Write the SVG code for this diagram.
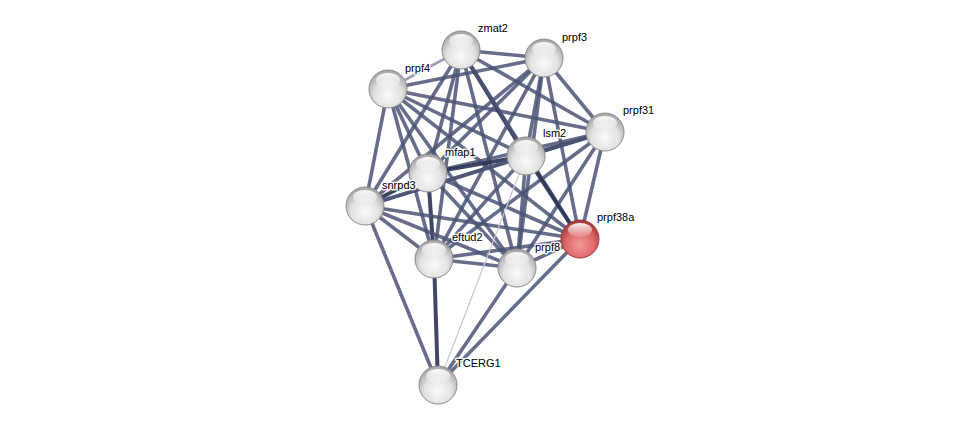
<svg xmlns="http://www.w3.org/2000/svg" width="975" height="430" viewBox="0 0 975 430">
<style>
.e{stroke:#4b5476;stroke-width:3.6;stroke-opacity:0.85;fill:none}
.d{stroke:#2b3354;stroke-width:4;stroke-opacity:0.9;fill:none}
.l{stroke:#8a90aa;stroke-width:2.6;stroke-opacity:0.85;fill:none}
.t{stroke:#c4c7d3;stroke-width:1.2;fill:none}
.n circle.b{fill:url(#gw);stroke:#8c8c8c;stroke-width:1}
.n ellipse{fill:url(#hl)}
.r circle.b{fill:url(#gr);stroke:#9a3a3a;stroke-width:1}
text{font-family:"Liberation Sans",Arial,sans-serif;font-size:11px;fill:#000;paint-order:stroke;stroke:#fff;stroke-width:3px;stroke-opacity:0.9;stroke-linejoin:round}
</style>
<defs>
<radialGradient id="gw" cx="0.5" cy="0.65" r="0.6">
<stop offset="0" stop-color="#fafafa"/>
<stop offset="0.6" stop-color="#e2e2e2"/>
<stop offset="1" stop-color="#a9a9a9"/>
</radialGradient>
<radialGradient id="gr" cx="0.5" cy="0.65" r="0.6">
<stop offset="0" stop-color="#f29a9a"/>
<stop offset="0.6" stop-color="#e06a6a"/>
<stop offset="1" stop-color="#a83c3c"/>
</radialGradient>
<linearGradient id="hl" x1="0" y1="0" x2="0" y2="1">
<stop offset="0" stop-color="#fff" stop-opacity="0.95"/>
<stop offset="1" stop-color="#fff" stop-opacity="0.1"/>
</linearGradient>
</defs>
<rect width="975" height="430" fill="#fff"/>
<g id="edges">
<line class="e" x1="461" y1="50" x2="544" y2="58"/>
<line class="l" x1="388" y1="89" x2="461" y2="50"/>
<line class="e" x1="388" y1="89" x2="544" y2="58"/>
<line class="e" x1="388" y1="89" x2="605" y2="132"/>
<line class="e" x1="388" y1="89" x2="365" y2="206"/>
<line class="e" x1="388" y1="89" x2="428" y2="173"/>
<line class="e" x1="388" y1="89" x2="434" y2="259"/>
<line class="e" x1="388" y1="89" x2="526" y2="156"/>
<line class="e" x1="388" y1="89" x2="517" y2="268"/>
<line class="e" x1="388" y1="89" x2="580" y2="239"/>
<line class="e" x1="461" y1="50" x2="605" y2="132"/>
<line class="d" x1="461" y1="50" x2="526" y2="156"/>
<line class="e" x1="461" y1="50" x2="428" y2="173"/>
<line class="e" x1="461" y1="50" x2="365" y2="206"/>
<line class="e" x1="461" y1="50" x2="434" y2="259"/>
<line class="e" x1="461" y1="50" x2="517" y2="268"/>
<line class="e" x1="461" y1="50" x2="580" y2="239"/>
<line class="e" x1="544" y1="58" x2="605" y2="132"/>
<line class="e" x1="544" y1="58" x2="526" y2="156"/>
<line class="e" x1="544" y1="58" x2="428" y2="173"/>
<line class="e" x1="544" y1="58" x2="365" y2="206"/>
<line class="e" x1="544" y1="58" x2="434" y2="259"/>
<line class="e" x1="544" y1="58" x2="517" y2="268"/>
<line class="e" x1="544" y1="58" x2="580" y2="239"/>
<line class="d" x1="605" y1="132" x2="526" y2="156"/>
<line class="e" x1="605" y1="132" x2="428" y2="173"/>
<line class="e" x1="605" y1="132" x2="365" y2="206"/>
<line class="e" x1="605" y1="132" x2="434" y2="259"/>
<line class="e" x1="605" y1="132" x2="517" y2="268"/>
<line class="e" x1="605" y1="132" x2="580" y2="239"/>
<line class="d" x1="526" y1="156" x2="428" y2="173"/>
<line class="e" x1="526" y1="156" x2="365" y2="206"/>
<line class="e" x1="526" y1="156" x2="434" y2="259"/>
<line class="e" x1="526" y1="156" x2="517" y2="268"/>
<line class="d" x1="526" y1="156" x2="580" y2="239"/>
<line class="d" x1="428" y1="173" x2="365" y2="206"/>
<line class="d" x1="428" y1="173" x2="434" y2="259"/>
<line class="e" x1="428" y1="173" x2="517" y2="268"/>
<line class="e" x1="428" y1="173" x2="580" y2="239"/>
<line class="e" x1="365" y1="206" x2="434" y2="259"/>
<line class="e" x1="365" y1="206" x2="517" y2="268"/>
<line class="e" x1="365" y1="206" x2="580" y2="239"/>
<line class="e" x1="365" y1="206" x2="438" y2="385"/>
<line class="e" x1="434" y1="259" x2="517" y2="268"/>
<line class="e" x1="434" y1="259" x2="580" y2="239"/>
<line class="d" x1="434" y1="259" x2="438" y2="385"/>
<line class="e" x1="517" y1="268" x2="580" y2="239"/>
<line class="e" x1="517" y1="268" x2="438" y2="385"/>
<line class="e" x1="580" y1="239" x2="438" y2="385"/>
<line class="t" x1="526" y1="156" x2="438" y2="385"/>
</g>
<g id="zmat2" class="n"><circle class="b" cx="461" cy="50" r="19"/><ellipse cx="461" cy="41" rx="12" ry="7"/><text x="478" y="32">zmat2</text></g>
<g id="prpf3" class="n"><circle class="b" cx="544" cy="58" r="19"/><ellipse cx="544" cy="49" rx="12" ry="7"/><text x="562" y="41">prpf3</text></g>
<g id="prpf4" class="n"><circle class="b" cx="388" cy="89" r="19"/><ellipse cx="388" cy="80" rx="12" ry="7"/><text x="405" y="72">prpf4</text></g>
<g id="prpf31" class="n"><circle class="b" cx="605" cy="132" r="19"/><ellipse cx="605" cy="123" rx="12" ry="7"/><text x="623" y="114">prpf31</text></g>
<g id="lsm2" class="n"><circle class="b" cx="526" cy="156" r="19"/><ellipse cx="526" cy="147" rx="12" ry="7"/><text x="543" y="137">lsm2</text></g>
<g id="mfap1" class="n"><circle class="b" cx="428" cy="173" r="19"/><ellipse cx="428" cy="164" rx="12" ry="7"/><text x="445" y="156">mfap1</text></g>
<g id="snrpd3" class="n"><circle class="b" cx="365" cy="206" r="19"/><ellipse cx="365" cy="197" rx="12" ry="7"/><text x="382" y="189">snrpd3</text></g>
<g id="prpf38a" class="n r"><circle class="b" cx="580" cy="239" r="19"/><ellipse cx="580" cy="230" rx="12" ry="7"/><text x="597" y="221">prpf38a</text></g>
<g id="eftud2" class="n"><circle class="b" cx="434" cy="259" r="19"/><ellipse cx="434" cy="250" rx="12" ry="7"/><text x="452" y="241">eftud2</text></g>
<g id="prpf8" class="n"><circle class="b" cx="517" cy="268" r="19"/><ellipse cx="517" cy="259" rx="12" ry="7"/><text x="535" y="251">prpf8</text></g>
<g id="TCERG1" class="n"><circle class="b" cx="438" cy="385" r="19"/><ellipse cx="438" cy="376" rx="12" ry="7"/><text x="456" y="367">TCERG1</text></g>
</svg>
